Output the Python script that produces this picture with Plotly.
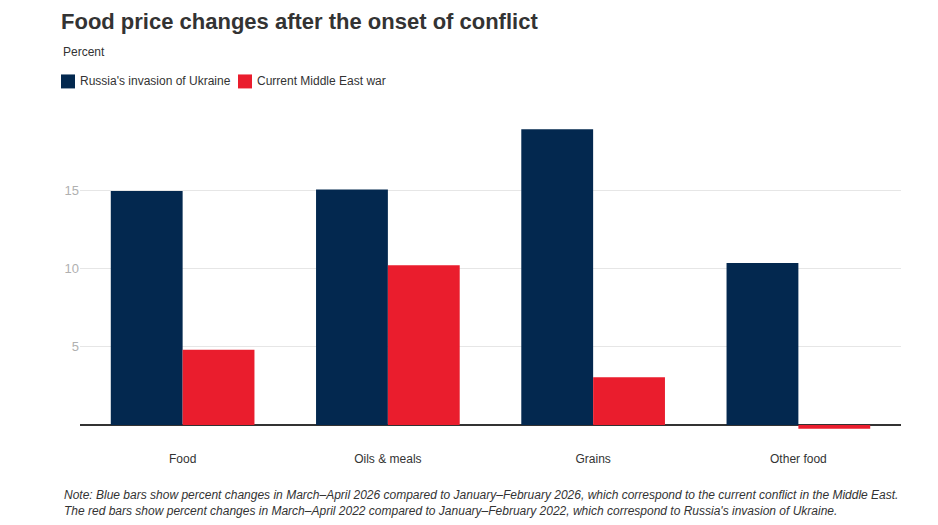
import plotly.graph_objects as go

categories = ["Food", "Oils & meals", "Grains", "Other food"]
russia_ukraine = [14.95, 15.05, 18.9, 10.35]
middle_east = [4.8, 10.2, 3.05, -0.25]
series_names = ["Russia's invasion of Ukraine", "Current Middle East war"]
y_ticks = [5, 10, 15]

W, H = 938, 525
ML, MR, MT, MB = 80, 37, 111.6, 74.9
PW, PH = W - ML - MR, H - MT - MB
NAVY = "#03284f"
RED = "#ea1d2d"
colors = [NAVY, RED]


def px(xp):
    return (xp - ML) / PW


def py(yp):
    return (H - MB - yp) / PH


fig = go.Figure()
for name, vals, col in zip(series_names, [russia_ukraine, middle_east], colors):
    fig.add_trace(go.Bar(x=categories, y=vals, name=name,
                         marker=dict(color=col, line=dict(width=0)), hoverinfo="skip"))

# custom legend (squares + labels) placed like the reference
legend_x = [61, 238]
shapes = []
annotations = []
for lx, name, col in zip(legend_x, series_names, colors):
    shapes.append(dict(type="rect", xref="paper", yref="paper",
                       x0=px(lx), x1=px(lx + 14), y0=py(88), y1=py(74),
                       fillcolor=col, line=dict(width=0)))
    annotations.append(dict(text=name, xref="paper", yref="paper", x=px(lx + 17), y=py(81),
                            xanchor="left", yanchor="middle", showarrow=False,
                            font=dict(size=12, color="#333333")))

annotations += [
    dict(text="Percent", xref="paper", yref="paper", x=px(61), y=py(52),
         xanchor="left", yanchor="middle", showarrow=False,
         font=dict(size=12, color="#333333")),
    dict(text="<i>Note: Blue bars show percent changes in March–April 2026 compared to January–February 2026, which correspond to the current conflict in the Middle East.<br>"
              "The red bars show percent changes in March–April 2022 compared to January–February 2022, which correspond to Russia's invasion of Ukraine.</i>",
         xref="paper", yref="paper", x=px(62), y=py(503),
         xanchor="left", yanchor="middle", align="left", showarrow=False,
         font=dict(size=12, color="#333333", family="Liberation Sans Narrow, Arial Narrow, Liberation Sans, sans-serif")),
]

fig.update_layout(
    width=W, height=H,
    margin=dict(l=ML, r=MR, t=MT, b=MB, autoexpand=False),
    paper_bgcolor="white", plot_bgcolor="white",
    barmode="group", bargap=0.3, bargroupgap=0,
    font=dict(family="Liberation Sans, Arial, sans-serif", color="#333333", size=12),
    title=dict(text="<b>Food price changes after the onset of conflict</b>",
               xref="container", x=61 / W, xanchor="left",
               yref="container", y=1 - 21 / H, yanchor="middle",
               font=dict(size=22, color="#333333")),
    showlegend=False,
    xaxis=dict(showgrid=False, showline=False, ticks="", tickfont=dict(size=12, color="#333333"),
               automargin=False),
    yaxis=dict(range=[-1.6, 20], tickvals=y_ticks, ticktext=[str(v) for v in y_ticks],
               showgrid=True, gridcolor="#e6e6e6", gridwidth=1,
               zeroline=True, zerolinecolor="#333333", zerolinewidth=1.5,
               showline=False, ticks="", tickfont=dict(size=13, color="#b0b0b0"),
               automargin=False),
    shapes=shapes,
    annotations=annotations,
)

fig.write_html("out.html")
